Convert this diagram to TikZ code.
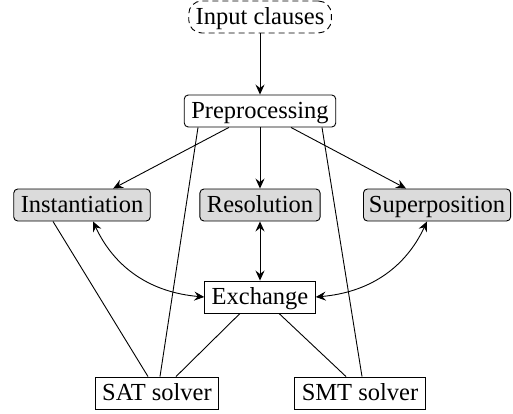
\documentclass[tikz,border=0pt]{standalone}
\usepackage{fontspec}
\setmainfont{Liberation Serif}
\usetikzlibrary{arrows.meta,calc}
\begin{document}
\begin{tikzpicture}[x=1pt,y=1pt,
  every node/.style={font=\fontsize{24.5}{28}\selectfont, inner xsep=7pt, inner ysep=4pt, text height=19.5pt, text depth=4.5pt, line width=0.9pt},
  plainbox/.style={draw},
  rbox/.style={draw, rounded corners=4pt},
  gbox/.style={draw, rounded corners=4pt, fill=gray!28},
  dbox/.style={draw, rounded corners=13pt, dash pattern=on 6pt off 4pt},
  arr/.style={-{Stealth[length=10pt,width=9pt,inset=3.5pt]}, line width=0.9pt},
  darr/.style={{Stealth[length=10pt,width=9pt,inset=3.5pt]}-{Stealth[length=10pt,width=9pt,inset=3.5pt]}, line width=0.9pt},
  ln/.style={line width=0.9pt}]
\useasboundingbox (0,0) rectangle (513,413);
\node[dbox] (input) at (260,396) {Input clauses};
\node[rbox] (prep) at (260,302) {Preprocessing};
\node[gbox] (inst) at (82,208) {Instantiation};
\node[gbox] (res) at (260,208) {Resolution};
\node[gbox, inner xsep=5.5pt] (sup) at (437,208) {Superposition};
\node[plainbox] (exch) at (260,116) {Exchange};
\node[plainbox] (sat) at (157,20) {SAT solver};
\node[plainbox] (smt) at (360,20) {SMT solver};

\draw[arr] (input) -- (prep);
\draw[arr] (prep) -- (inst);
\draw[arr] (prep) -- (res);
\draw[arr] (prep) -- (sup);
\draw[darr] (res) -- (exch);
\draw[darr] ([xshift=11pt]inst.south) to[out=-65,in=175] (exch.west);
\draw[darr] ([xshift=-10pt]sup.south) to[out=-115,in=5] (exch.east);

\draw[ln] ([xshift=-29pt]inst.south) -- ([xshift=-9pt]sat.north);
\draw[ln] ([xshift=-62pt]prep.south) -- ([xshift=3pt]sat.north);
\draw[ln] ([xshift=-20pt]exch.south) -- ([xshift=19pt]sat.north);
\draw[ln] ([xshift=19pt]exch.south) -- ([xshift=-14pt]smt.north);
\draw[ln] ([xshift=62pt]prep.south) -- ([xshift=2pt]smt.north);
\end{tikzpicture}
\end{document}
